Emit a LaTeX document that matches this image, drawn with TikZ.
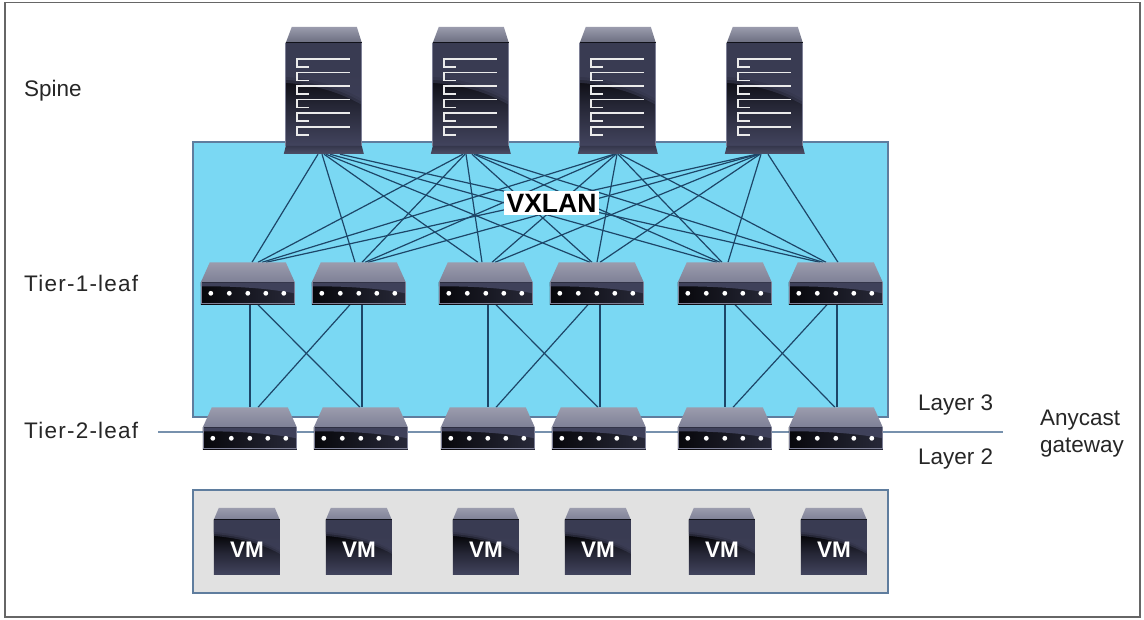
\documentclass[tikz,border=0pt]{standalone}
\usepackage{fontspec}
\setmainfont{Liberation Sans}
\definecolor{fabric}{HTML}{7AD8F3}
\definecolor{hostbg}{HTML}{E1E1E1}
\definecolor{boxline}{HTML}{5F7D9E}
\definecolor{wire}{HTML}{1D4668}
\definecolor{roofhi}{HTML}{9B9CAD}
\definecolor{rooflo}{HTML}{7E8096}
\definecolor{bodyhi}{HTML}{3F415A}
\definecolor{bodylo}{HTML}{42445E}
\definecolor{bodyblack}{HTML}{07070B}
\pgfdeclareverticalshading{lowerbody}{100bp}{color(0bp)=(bodylo!80!roofhi); color(25bp)=(bodylo); color(45bp)=(bodylo!50!bodyblack); color(60bp)=(bodyblack); color(100bp)=(bodyblack)}
\tikzset{
    labeltext/.style={font=\fontsize{22.5}{27}\selectfont,text=black!85,inner sep=0pt,anchor=west,align=left},
    tierlabel/.style={labeltext,font=\fontsize{22.5}{27}\selectfont\addfontfeatures{LetterSpace=5.5}},
    spinebox/.style={inner sep=0pt,minimum width=80pt,minimum height=127pt},
    leafbox/.style={inner sep=0pt,minimum width=94pt,minimum height=42pt},
    vmbox/.style={inner sep=0pt,minimum width=66pt,minimum height=67pt},
    vmlabel/.style={font=\fontsize{22.5}{27}\selectfont\bfseries,text=white,inner sep=0pt},
    link/.style={wire,line width=1.2pt},
}
\newcommand{\drawspine}[1]{
    \begin{scope}[shift={(#1.north west)}]
        \shade[top color=roofhi,bottom color=rooflo!85!black] (8,0) -- (73,0) -- (78,16) -- (2,16) -- cycle;
        \shade[shading=lowerbody] (2,16) rectangle (78,119);
        \foreach \o in {0,3,6}
            \fill[bodyhi,opacity=.55] (2,16) -- (78,16) -- (78,72+\o) .. controls (50,56+\o) and (25,52+\o) .. (2,50+\o) -- cycle;
        \draw[rooflo,line width=.8pt] (2,16) -- (2,119) (78,16) -- (78,119);
        \shade[top color=bodylo!80!black,bottom color=bodyhi!85!roofhi] (2,119) -- (78,119) -- (80,127) -- (0,127) -- cycle;
        \foreach \r in {32,45.6,59.2,72.8,86.4,100}
            \draw[white!92!black,line width=1.7pt] (66,\r) -- (13,\r) -- (13,\r+8) -- (25,\r+8);
    \end{scope}
}
\newcommand{\drawleaf}[1]{
    \begin{scope}[shift={(#1.north west)}]
        \shade[top color=roofhi,bottom color=rooflo] (9,0) -- (85,0) -- (94,20) -- (0,20) -- cycle;
        \shade[left color=bodyblack,right color=bodylo!60!black] (0,20) rectangle (94,42);
        \fill[bodyhi] (0,20) -- (94,20) -- (94,31) .. controls (60,25) and (30,24) .. (0,24) -- cycle;
        \draw[rooflo,line width=1pt] (.5,20) -- (.5,41.5) -- (93.5,41.5) -- (93.5,20);
        \foreach \d in {10,28.5,47,65,83}
            \fill[white] (\d,31) circle (2.4);
    \end{scope}
}
\newcommand{\drawvm}[1]{
    \begin{scope}[shift={(#1.north west)}]
        \shade[top color=roofhi,bottom color=rooflo] (5,0) -- (61,0) -- (66,12) -- (0,12) -- cycle;
        \shade[shading=lowerbody] (0,12) rectangle (66,67);
        \foreach \o in {0,2,4}
            \fill[bodyhi,opacity=.55] (0,12) -- (66,12) -- (66,42+\o) .. controls (45,30+\o) and (20,26+\o) .. (0,24+\o) -- cycle;
    \end{scope}
}
\begin{document}
\begin{tikzpicture}[x=1pt,y=-1pt]
    \useasboundingbox (0,0) rectangle (1144,620);
    \fill[white] (0,0) rectangle (1144,620);
    \draw[black!60,line width=1.5pt] (5,2.5) rectangle (1140,617);
    \draw[boxline,line width=1.2pt,fill=fabric] (193,142) rectangle (888,417);
    \draw[boxline,line width=1.2pt,fill=hostbg] (193,490) rectangle (888,593);

    % layer boundary
    \coordinate (borderL) at (158,432);
    \coordinate (borderR) at (1003,432);
    \draw[boxline!85!white,line width=1.3pt] (borderL) -- (borderR);

    \foreach \n/\x in {1/324,2/471,3/618,4/765}
    {
        \node[spinebox] (spine\n) at (\x,90.5) {};
    }
    \foreach \n/\x in {1/248,2/359,3/486,4/597,5/725,6/836}
    {
        \node[leafbox] (tierone\n) at (\x,283.5) {};
    }
    \foreach \n/\x in {1/250,2/361,3/488,4/599,5/725,6/836}
    {
        \node[leafbox] (tiertwo\n) at (\x,428.5) {};
    }
    \foreach \n/\x in {1/247,2/359,3/486,4/598,5/722,6/834}
    {
        \node[vmbox] (vm\n) at (\x,541.5) {};
    }

    % spine to tier 1, offsets on both ends
    \foreach \s/\l/\a/\b in {
        1/1/-6/4,   1/2/-2/-4,  1/3/0/-8,   1/4/2/-7,   1/5/6/-8,   1/6/16/-16,
        2/1/-8/10,  2/2/-6/3,   2/3/-5/-4,  2/4/1/-5,   2/5/3/-5,   2/6/5/-13,
        3/1/-4/14,  3/2/-3/6,   3/3/-2/6,   3/4/-1/0,   3/5/0/-3,   3/6/2/-10,
        4/1/-8/18,  4/2/-7/9,   4/3/-6/9,   4/4/-5/3,   4/5/-4/3,   4/6/3/2
    }
    {
        \draw[link] ([xshift=\a]spine\s.south) -- ([xshift=\b]tierone\l.north);
    }

    % tier 1 to tier 2
    \foreach \a/\b in {1/2,3/4,5/6}
    {
        \draw[link] (tierone\a.south -| tiertwo\a.north) -- (tiertwo\a.north);
        \draw[link] ([xshift=1pt]tierone\b.south -| tiertwo\b.north) -- ([xshift=1pt]tiertwo\b.north);
        \draw[link] ([xshift=10pt]tierone\a.south) -- ([xshift=-1pt]tiertwo\b.north);
        \draw[link] ([xshift=-9pt]tierone\b.south) -- ([xshift=8pt]tiertwo\a.north);
    }

    % icons over the wires
    \foreach \n in {1,...,4}
    {
        \drawspine{spine\n}
    }
    \foreach \n in {1,...,6}
    {
        \drawleaf{tierone\n}
        \drawleaf{tiertwo\n}
        \drawvm{vm\n}
        \node[vmlabel] (vmtext\n) at ([yshift=-8pt]vm\n.center) {VM};
    }

    \node[fill=white,inner sep=2.5pt,font=\fontsize{26.5}{30}\selectfont\bfseries] (vxlan) at (551.5,203) {VXLAN};

    \node[labeltext] (spinetext) at (24,91) {Spine};
    \node[tierlabel] (tieronetext) at (24,283.5) {Tier-1-leaf};
    \node[tierlabel] (tiertwotext) at (24,430.5) {Tier-2-leaf};
    \node[labeltext] (layerthree) at (918,405) {Layer 3};
    \node[labeltext] (layertwo) at (918,459) {Layer 2};
    \node[labeltext] (anycast) at (1040,434) {Anycast\\gateway};
\end{tikzpicture}
\end{document}
